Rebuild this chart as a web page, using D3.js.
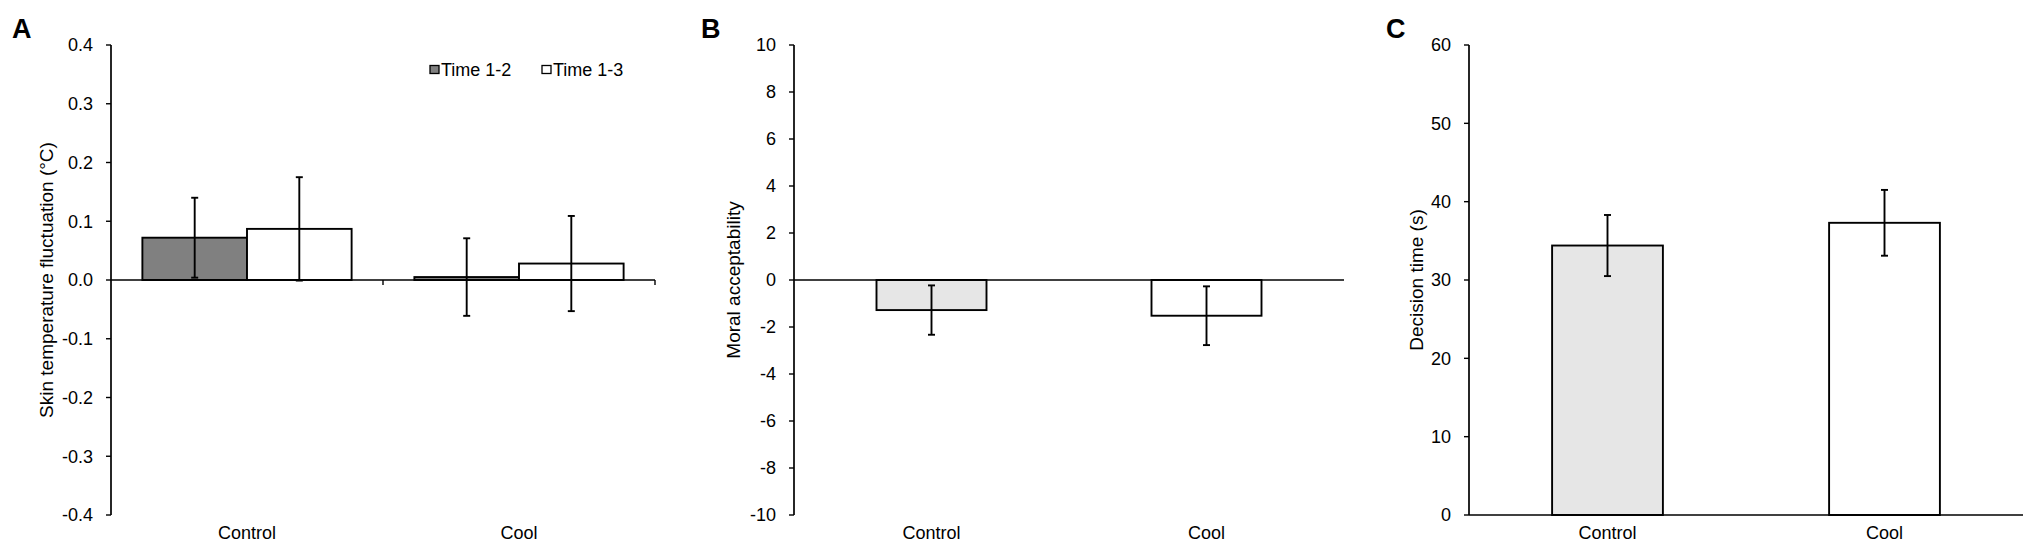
<!DOCTYPE html>
<html>
<head>
<meta charset="utf-8">
<script src="https://cdn.jsdelivr.net/npm/d3@7"></script>
<style>
  body { margin: 0; background: #fff; }
  text { font-family: "Liberation Sans", Arial, Helvetica, sans-serif; fill: #000; }
</style>
</head>
<body>
<script>
// data
var categories = ["Control", "Cool"];
var seriesNames = ["Time 1-2", "Time 1-3"];

// panel A: skin temperature fluctuation
var temp12 = [0.072, 0.005];
var temp12Err = [0.068, 0.066];
var temp13 = [0.087, 0.028];
var temp13Err = [0.088, 0.081];
var tempTicks = [-0.4, -0.3, -0.2, -0.1, 0, 0.1, 0.2, 0.3, 0.4];
var tempTickLabels = ["-0.4", "-0.3", "-0.2", "-0.1", "0.0", "0.1", "0.2", "0.3", "0.4"];

// panel B: moral acceptability
var moral = [-1.28, -1.52];
var moralErr = [1.05, 1.25];
var moralTicks = [-10, -8, -6, -4, -2, 0, 2, 4, 6, 8, 10];

// panel C: decision time
var decision = [34.4, 37.3];
var decisionErr = [3.9, 4.2];
var decisionTicks = [0, 10, 20, 30, 40, 50, 60];

var width = 2033;
var height = 546;
var top_ = 45, bottom_ = 515;
var fontSize = 18;
var titleSize = 19;

const svg = d3.select("body")
              .append("svg")
              .attr("width", width)
              .attr("height", height);

svg.append("rect")
   .attr("width", width)
   .attr("height", height)
   .style("fill", "#fff");

// draws the y axis, its ticks, labels and title
function yAxisOf(y, x0, ticks, labels, title, titleX)
{
  var g = svg.append("g");
  g.append("line")
   .attr("x1", x0).attr("x2", x0)
   .attr("y1", y(d3.max(ticks))).attr("y2", y(d3.min(ticks)))
   .attr("stroke", "#000").attr("stroke-width", 1.7);
  g.selectAll(".tick").data(ticks).enter()
   .append("line")
   .attr("x1", x0 - 5).attr("x2", x0)
   .attr("y1", function(d) { return y(d); })
   .attr("y2", function(d) { return y(d); })
   .attr("stroke", "#000").attr("stroke-width", 1.4);
  g.selectAll(".lbl").data(ticks).enter()
   .append("text")
   .attr("x", x0 - 18)
   .attr("y", function(d) { return y(d); })
   .attr("dy", "0.35em")
   .attr("text-anchor", "end")
   .style("font-size", fontSize + "px")
   .text(function(d, i) { return labels ? labels[i] : d; });
  g.append("text")
   .attr("transform", "translate(" + titleX + "," + ((top_ + bottom_) / 2) + ") rotate(-90)")
   .attr("text-anchor", "middle")
   .attr("dy", "0.35em")
   .style("font-size", titleSize + "px")
   .text(title);
}

function categoryLabels(x)
{
  svg.selectAll(null).data(categories).enter()
     .append("text")
     .attr("x", function(d) { return x(d) + x.bandwidth() / 2; })
     .attr("y", 539)
     .attr("text-anchor", "middle")
     .style("font-size", fontSize + "px")
     .text(function(d) { return d; });
}

function errorBar(cx, yTop, yBot)
{
  svg.append("line")
     .attr("x1", cx).attr("x2", cx).attr("y1", yTop).attr("y2", yBot)
     .attr("stroke", "#000").attr("stroke-width", 1.9);
  [yTop, yBot].forEach(function(yy) {
    svg.append("line")
       .attr("x1", cx - 3.5).attr("x2", cx + 3.5).attr("y1", yy).attr("y2", yy)
       .attr("stroke", "#000").attr("stroke-width", 1.9);
  });
}

function panelLetter(letter, x)
{
  svg.append("text")
     .attr("x", x).attr("y", 38)
     .style("font-size", "27px")
     .style("font-weight", "bold")
     .text(letter);
}

// ---------- Panel A ----------
var xA = d3.scaleBand().domain(categories).range([111, 655]).padding(0);
var xAin = d3.scaleBand().domain(seriesNames).range([0, xA.bandwidth()])
             .paddingInner(0).paddingOuter(0.3);
var yA = d3.scaleLinear().domain([-0.4, 0.4]).range([bottom_, top_]);

var tempData = [];
categories.forEach(function(c, i) {
  tempData.push({cat: c, s: seriesNames[0], v: temp12[i], e: temp12Err[i], fill: "#808080"});
  tempData.push({cat: c, s: seriesNames[1], v: temp13[i], e: temp13Err[i], fill: "#ffffff"});
});

svg.selectAll(".barA").data(tempData).enter()
   .append("rect")
   .attr("x", function(d) { return xA(d.cat) + xAin(d.s); })
   .attr("y", function(d) { return yA(Math.max(0, d.v)); })
   .attr("width", xAin.bandwidth())
   .attr("height", function(d) { return Math.abs(yA(d.v) - yA(0)); })
   .attr("fill", function(d) { return d.fill; })
   .attr("stroke", "#000").attr("stroke-width", 1.9);

tempData.forEach(function(d) {
  errorBar(xA(d.cat) + xAin(d.s) + xAin.bandwidth() / 2, yA(d.v + d.e), yA(d.v - d.e));
});

// zero line with ticks at category boundaries
svg.append("line")
   .attr("x1", 111).attr("x2", 655).attr("y1", yA(0)).attr("y2", yA(0))
   .attr("stroke", "#000").attr("stroke-width", 1.7);
[xA("Cool"), 655].forEach(function(xx) {
  svg.append("line")
     .attr("x1", xx).attr("x2", xx).attr("y1", yA(0)).attr("y2", yA(0) + 5)
     .attr("stroke", "#000").attr("stroke-width", 1.4);
});

yAxisOf(yA, 111, tempTicks, tempTickLabels, "Skin temperature fluctuation (\u00B0C)", 46);
categoryLabels(xA);
panelLetter("A", 12);

// legend
var legend = svg.append("g");
var legendX = [430, 542];
seriesNames.forEach(function(s, i) {
  legend.append("rect")
        .attr("x", legendX[i]).attr("y", 65.5)
        .attr("width", 9).attr("height", 8)
        .attr("fill", i == 0 ? "#808080" : "#fff")
        .attr("stroke", "#000").attr("stroke-width", 1.3);
  legend.append("text")
        .attr("x", legendX[i] + 11).attr("y", 70)
        .attr("dy", "0.35em")
        .style("font-size", fontSize + "px")
        .text(s);
});

// ---------- Panel B ----------
var xB = d3.scaleBand().domain(categories).range([794, 1344])
           .paddingInner(0.6).paddingOuter(0.3);
var yB = d3.scaleLinear().domain([-10, 10]).range([bottom_, top_]);
var fills = ["#e6e6e6", "#ffffff"];

svg.selectAll(".barB").data(moral).enter()
   .append("rect")
   .attr("x", function(d, i) { return xB(categories[i]); })
   .attr("y", function(d) { return yB(Math.max(0, d)); })
   .attr("width", xB.bandwidth())
   .attr("height", function(d) { return Math.abs(yB(d) - yB(0)); })
   .attr("fill", function(d, i) { return fills[i]; })
   .attr("stroke", "#000").attr("stroke-width", 1.9);

moral.forEach(function(v, i) {
  errorBar(xB(categories[i]) + xB.bandwidth() / 2, yB(v + moralErr[i]), yB(v - moralErr[i]));
});

svg.append("line")
   .attr("x1", 794).attr("x2", 1344).attr("y1", yB(0)).attr("y2", yB(0))
   .attr("stroke", "#000").attr("stroke-width", 1.7);

yAxisOf(yB, 794, moralTicks, null, "Moral acceptability", 733);
var xBl = d3.scaleBand().domain(categories).range([794, 1344]);
categoryLabels(xBl);
panelLetter("B", 701);

// ---------- Panel C ----------
var xC = d3.scaleBand().domain(categories).range([1469, 2023])
           .paddingInner(0.6).paddingOuter(0.3);
var yC = d3.scaleLinear().domain([0, 60]).range([bottom_, top_]);

svg.selectAll(".barC").data(decision).enter()
   .append("rect")
   .attr("x", function(d, i) { return xC(categories[i]); })
   .attr("y", function(d) { return yC(d); })
   .attr("width", xC.bandwidth())
   .attr("height", function(d) { return yC(0) - yC(d); })
   .attr("fill", function(d, i) { return fills[i]; })
   .attr("stroke", "#000").attr("stroke-width", 1.9);

decision.forEach(function(v, i) {
  errorBar(xC(categories[i]) + xC.bandwidth() / 2, yC(v + decisionErr[i]), yC(v - decisionErr[i]));
});

svg.append("line")
   .attr("x1", 1469).attr("x2", 2023).attr("y1", yC(0)).attr("y2", yC(0))
   .attr("stroke", "#000").attr("stroke-width", 1.7);

yAxisOf(yC, 1469, decisionTicks, null, "Decision time (s)", 1416);
var xCl = d3.scaleBand().domain(categories).range([1469, 2023]);
categoryLabels(xCl);
panelLetter("C", 1386);
</script>
</body>
</html>
